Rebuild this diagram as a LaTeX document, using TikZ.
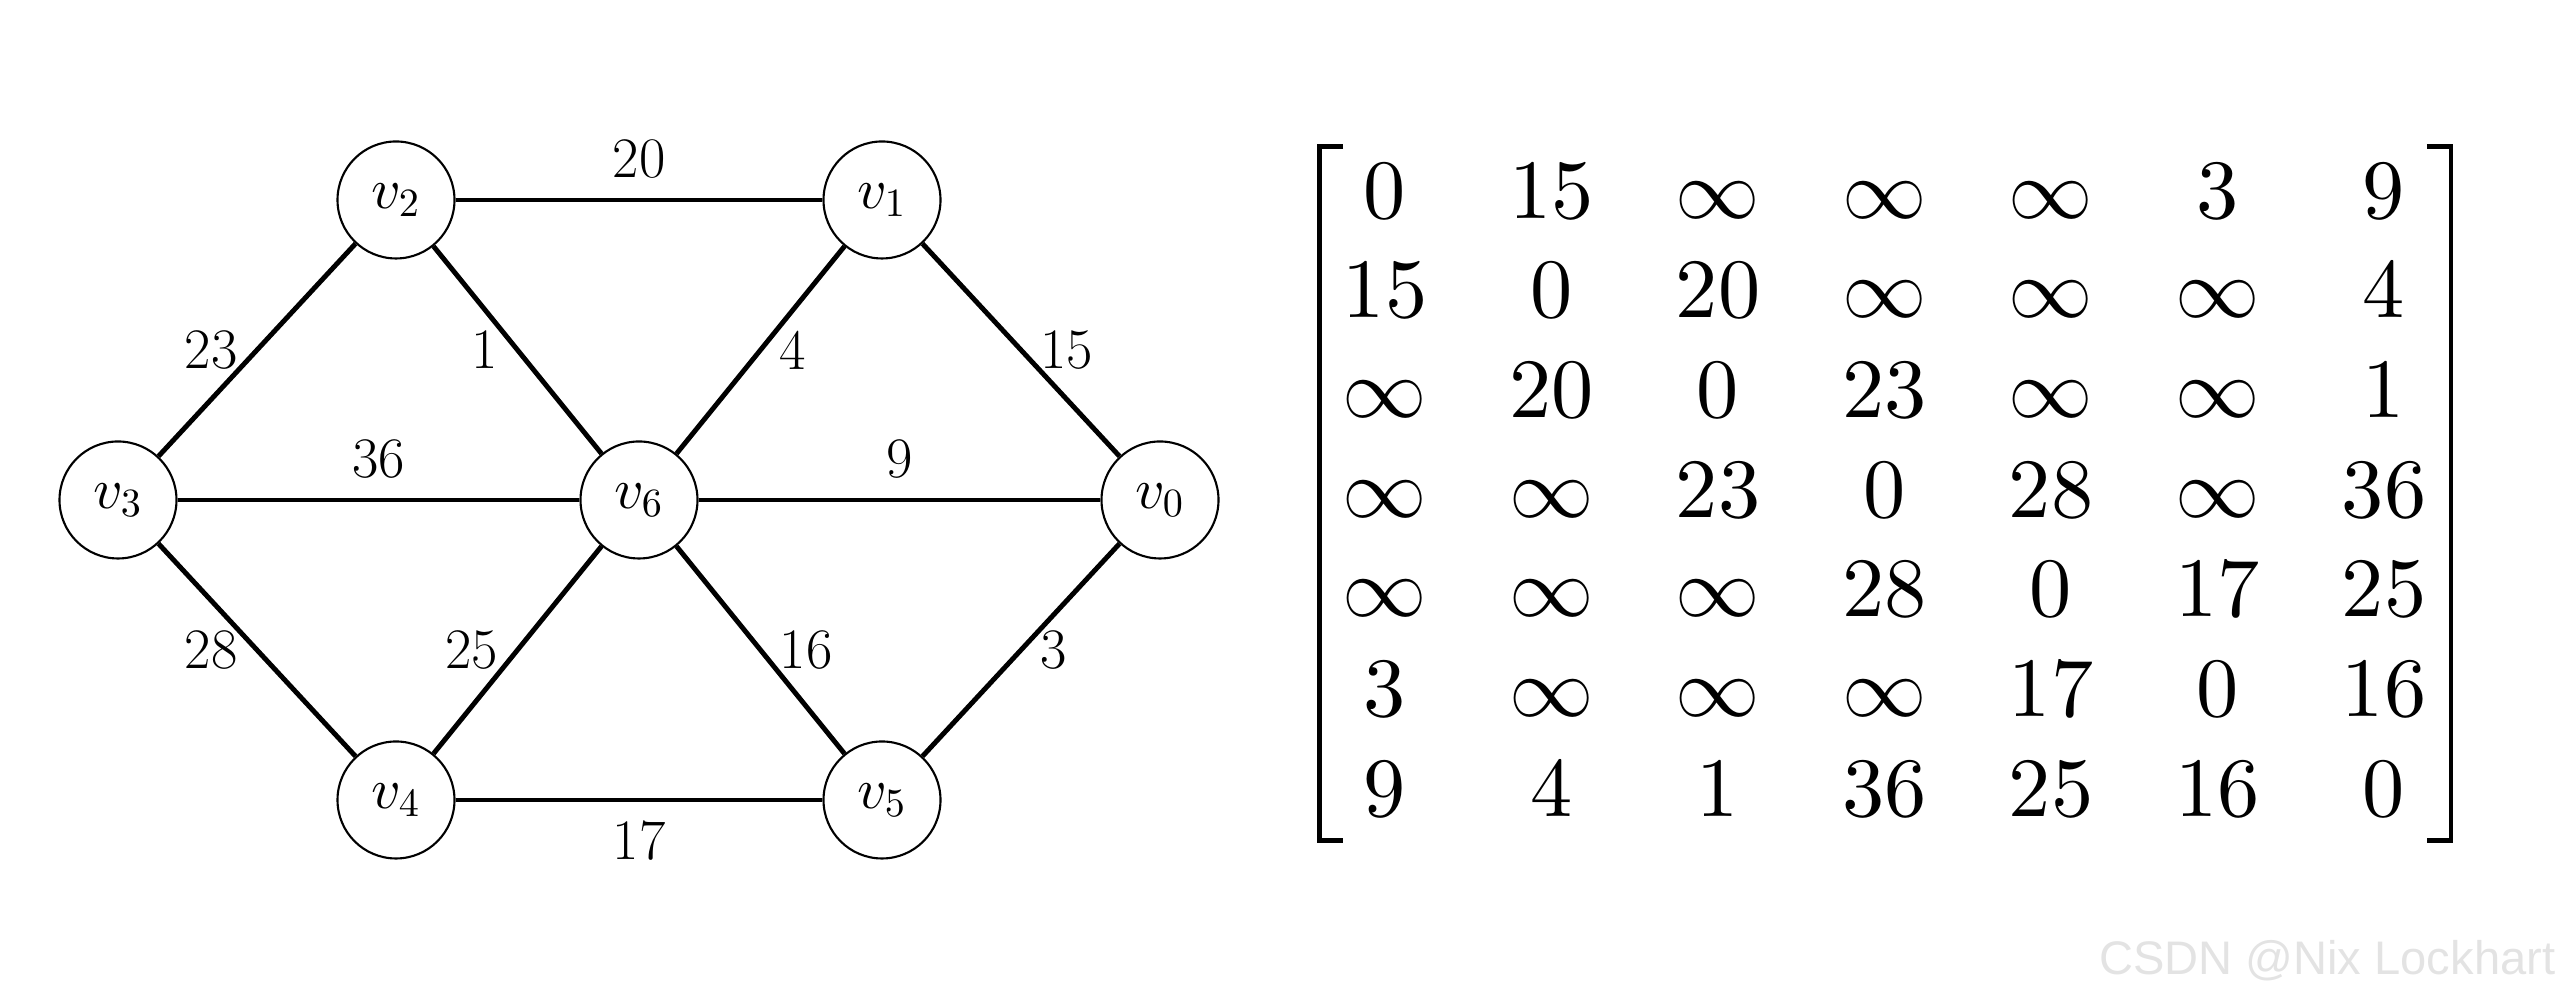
\documentclass[tikz,border=0pt]{standalone}
\usepackage{amsmath}
\usepackage{fontspec}
\newfontfamily\wmfont{Liberation Sans}
\usetikzlibrary{matrix,calc}

% scalable math fonts
\DeclareFontShape{OT1}{cmr}{m}{n}{<->cmr10}{}
\DeclareFontShape{OML}{cmm}{m}{it}{<->cmmi10}{}
\DeclareFontShape{OMS}{cmsy}{m}{n}{<->cmsy10}{}

\newcommand{\lblfont}{\fontsize{16.3}{19.6}\selectfont}
\newcommand{\matfont}{\fontsize{24}{28.8}\selectfont}

\tikzset{
	vtx/.style={draw, circle, line width=0.6pt, minimum size=1.17cm, inner sep=0, font=\lblfont},
	link/.style={line width=1.4pt},
	wt/.style={midway, font=\lblfont},
	brk/.style={line width=1.4pt},
}

\begin{document}
\begin{tikzpicture}
	\useasboundingbox (0,0) rectangle (25.6,10);
	% graph
	\node[vtx] (v3) at (1.18,5.0) {$v_3$};
	\node[vtx] (v2) at (3.96,8.0) {$v_2$};
	\node[vtx] (v6) at (6.39,5.0) {$v_6$};
	\node[vtx] (v1) at (8.82,8.0) {$v_1$};
	\node[vtx] (v0) at (11.60,5.0) {$v_0$};
	\node[vtx] (v4) at (3.96,2.0) {$v_4$};
	\node[vtx] (v5) at (8.82,2.0) {$v_5$};

	\draw[link] (v2) -- (v1) node[wt, above=2pt] {20};
	\draw[link] (v3) -- (v2) node[wt, left=1.5pt] {23};
	\draw[link] (v2) -- (v6) node[wt, left=1.5pt] {1};
	\draw[link] (v6) -- (v1) node[wt, right=1.5pt] {4};
	\draw[link] (v1) -- (v0) node[wt, right=1.5pt] {15};
	\draw[link] (v3) -- (v6) node[wt, above=2pt] {36};
	\draw[link] (v6) -- (v0) node[wt, above=2pt] {9};
	\draw[link] (v3) -- (v4) node[wt, left=1.5pt] {28};
	\draw[link] (v4) -- (v6) node[wt, left=1.5pt] {25};
	\draw[link] (v6) -- (v5) node[wt, right=1.5pt] {16};
	\draw[link] (v5) -- (v0) node[wt, right=1.5pt] {3};
	\draw[link] (v4) -- (v5) node[wt, below=2pt] {17};

	% adjacency matrix
	\matrix (adj) [matrix of math nodes, inner sep=0, row sep=0pt, column sep=0pt,
		nodes={font=\matfont, inner sep=0, text height=15.46pt, text depth=0pt,
			minimum width=1.665cm, minimum height=0.997cm}] at (18.845,5.10) {
		0 & 15 & \infty & \infty & \infty & 3 & 9 \\
		15 & 0 & 20 & \infty & \infty & \infty & 4 \\
		\infty & 20 & 0 & 23 & \infty & \infty & 1 \\
		\infty & \infty & 23 & 0 & 28 & \infty & 36 \\
		\infty & \infty & \infty & 28 & 0 & 17 & 25 \\
		3 & \infty & \infty & \infty & 17 & 0 & 16 \\
		9 & 4 & 1 & 36 & 25 & 16 & 0 \\
	};
	\draw[brk] ($(adj.north west)+(0.42,-0.065)$) -| ($(adj.south west)+(0.18,-0.005)$) -- ++(0.24,0);
	\draw[brk] ($(adj.north east)+(-0.41,-0.065)$) -| ($(adj.south east)+(-0.17,-0.005)$) -- ++(-0.24,0);

	\node[anchor=base east, inner sep=0, font=\wmfont\fontsize{13.4}{16}\selectfont, text=gray!22] (wm) at (25.56,0.25) {CSDN @Nix Lockhart};
\end{tikzpicture}
\end{document}
